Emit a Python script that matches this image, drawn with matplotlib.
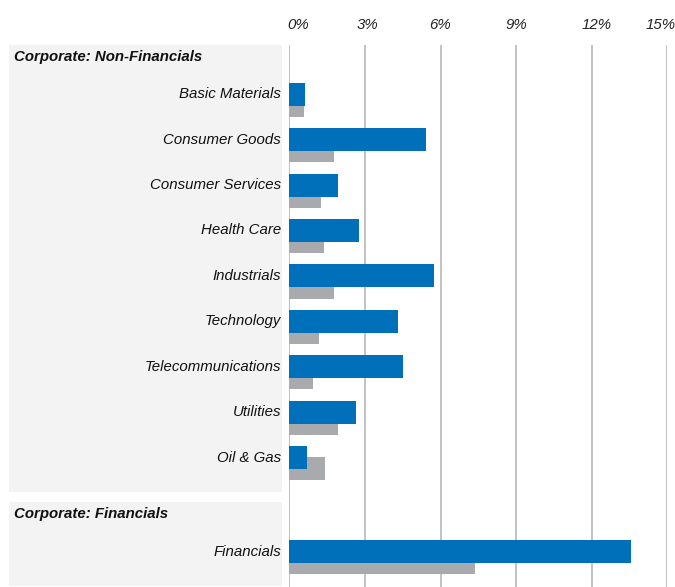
import matplotlib.pyplot as plt
from matplotlib.patches import Rectangle
import matplotlib.transforms as mtransforms
from matplotlib import font_manager

# narrow font if available, else regular Liberation Sans
names = {f.name for f in font_manager.fontManager.ttflist}
narrow = 'Liberation Sans Narrow' in names
plt.rcParams['font.family'] = ['Liberation Sans Narrow' if narrow else 'Liberation Sans', 'DejaVu Sans']
fs = 13 if narrow else 10.8

# sector labels and the two series (percent)
sectors = ["Basic Materials", "Consumer Goods", "Consumer Services", "Health Care",
           "Industrials", "Technology", "Telecommunications", "Utilities", "Oil & Gas",
           "Financials"]
series_blue = [0.62, 5.42, 1.93, 2.77, 5.74, 4.31, 4.51, 2.65, 0.70, 13.56]
series_grey = [0.58, 1.77, 1.26, 1.38, 1.77, 1.18, 0.94, 1.93, 1.41, 7.37]
groups = ["Corporate: Non-Financials", "Corporate: Financials"]
ticks = [0, 3, 6, 9, 12, 15]
tick_shift = [0.35, 0.12, 0, 0.03, 0.2, -0.25]

blue = '#0070BA'
grey = '#A9AAAE'

# slot positions (Financials sits two slots below Oil & Gas)
ypos = list(range(9)) + [10.07]
header_y = [-0.82, 9.25]

W, H = 675, 587
fig = plt.figure(figsize=(W / 100, H / 100), dpi=100)
ax = fig.add_axes([289.3 / W, 0, (667.3 - 289.3) / W, 1 - 45 / H])

# grey panels behind the labels
for top, bot in [(45, 491.7), (501.7, 585.7)]:
    fig.patches.append(Rectangle((9 / W, 1 - bot / H), (282 - 9) / W, (bot - top) / H,
                                 transform=fig.transFigure, facecolor='#F3F3F3',
                                 edgecolor='none', zorder=0))

off = 0.247
h = 0.507
ax.barh([y + off for y in ypos], series_grey, height=h, color=grey, zorder=2)
ax.barh(ypos, series_blue, height=h, color=blue, zorder=3)

ax.set_xlim(0, 15)
ax.set_ylim(10.85, -1.084)
ax.set_xticks(ticks)
ax.set_xticklabels([])
ax.tick_params(axis='x', length=0, top=False, bottom=False)
ax.set_yticks([])
ax.grid(axis='x', color='#BDBDBD', linewidth=1.3, zorder=1)
for s in ax.spines.values():
    s.set_visible(False)
ax.patch.set_alpha(0)

# tick labels above the plot
ttrans = mtransforms.blended_transform_factory(ax.transData, fig.transFigure)
for t, d in zip(ticks, tick_shift):
    fig.text(t + d, 1 - 25 / H, f"{t}%", transform=ttrans, ha='center', va='center',
             fontstyle='italic', fontsize=fs, color='#222222')

trans = mtransforms.blended_transform_factory(fig.transFigure, ax.transData)
for name, y in zip(sectors, ypos):
    fig.text(281 / W, y, name, transform=trans, ha='right', va='center',
             fontstyle='italic', fontsize=fs, color='#111111')
for g, y in zip(groups, header_y):
    fig.text(14 / W, y, g, transform=trans, ha='left', va='center',
             fontstyle='italic', fontweight='bold', fontsize=fs, color='#111111')

fig.savefig('out.png', dpi=100)
